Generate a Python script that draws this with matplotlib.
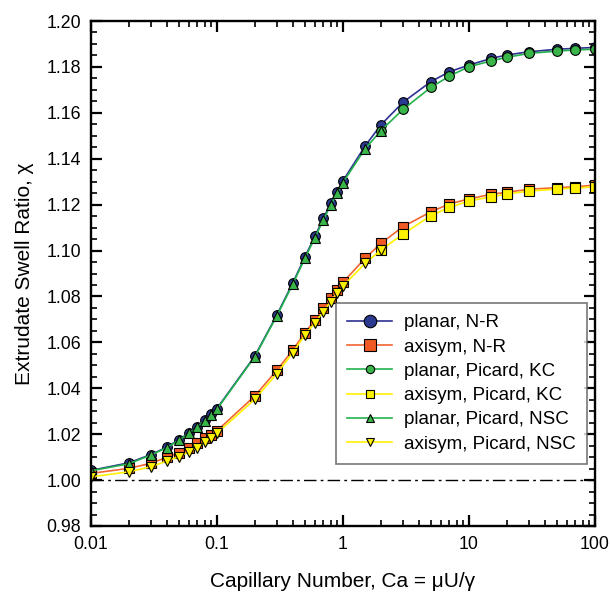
import matplotlib
matplotlib.use("Agg")
import matplotlib.pyplot as plt
from matplotlib.lines import Line2D
from matplotlib.ticker import LogLocator, MultipleLocator, FixedFormatter, FixedLocator

plt.rcParams['font.family'] = ['Liberation Sans', 'DejaVu Sans']

# Capillary numbers
ca_full = [0.01, 0.02, 0.03, 0.04, 0.05, 0.06, 0.07, 0.08, 0.09, 0.1,
           0.2, 0.3, 0.4, 0.5, 0.6, 0.7, 0.8, 0.9, 1, 1.5, 2,
           3, 5, 7, 10, 15, 20, 30, 50, 70, 100]
ca_low = ca_full[:21]    # Picard NSC runs
ca_high = ca_full[20:]   # Picard KC runs

planar_nr = [1.0042, 1.0075, 1.0111, 1.0143, 1.0176, 1.0205, 1.0233, 1.0261, 1.0286, 1.0311,
             1.0540, 1.0720, 1.0858, 1.0972, 1.1062, 1.1140, 1.1205, 1.1256, 1.1303, 1.1455, 1.1547,
             1.1646, 1.1736, 1.1779, 1.1808, 1.1837, 1.1852, 1.1866, 1.1877, 1.1881, 1.1885]
axisym_nr = [1.0029, 1.0051, 1.0073, 1.0099, 1.0119, 1.0141, 1.0160, 1.0182, 1.0196, 1.0214,
             1.0366, 1.0479, 1.0566, 1.0642, 1.0697, 1.0748, 1.0792, 1.0828, 1.0861, 1.0966, 1.1031,
             1.1104, 1.1169, 1.1203, 1.1225, 1.1245, 1.1254, 1.1267, 1.1274, 1.1278, 1.1285]
planar_kc = [1.1522, 1.1615, 1.1711, 1.1760, 1.1801, 1.1826, 1.1842, 1.1859, 1.1869, 1.1874, 1.1877]
axisym_kc = [1.1002, 1.1072, 1.1152, 1.1188, 1.1216, 1.1234, 1.1246, 1.1259, 1.1268, 1.1272, 1.1278]
planar_nsc = [1.0040, 1.0071, 1.0109, 1.0141, 1.0174, 1.0203, 1.0230, 1.0258, 1.0283, 1.0308,
              1.0537, 1.0716, 1.0853, 1.0966, 1.1056, 1.1133, 1.1198, 1.1249, 1.1296, 1.1443, 1.1522]
axisym_nsc = [1.0014, 1.0036, 1.0058, 1.0083, 1.0102, 1.0123, 1.0141, 1.0164, 1.0182, 1.0203,
              1.0352, 1.0464, 1.0555, 1.0632, 1.0685, 1.0733, 1.0777, 1.0816, 1.0845, 1.0944, 1.1002]

x_ticks = [0.01, 0.1, 1, 10, 100]
x_ticklabels = ["0.01", "0.1", "1", "10", "100"]

blue_line, blue_fill = "#2E3192", "#2B3990"
orange_line, orange_fill = "#F26531", "#F15A24"
green_line, green_fill = "#22B14C", "#39B54A"
yellow_line, yellow_fill = "#FFF200", "#FFF200"

fig = plt.figure(figsize=(6.1, 5.92), dpi=100)
ax = fig.add_axes([0.1487, 0.1115, 0.8267, 0.853])

ms = 7
kw = dict(markeredgecolor="black", markeredgewidth=0.8, linewidth=1.2, markersize=ms)
ax.plot([0.01, 100], [1.0, 1.0], color="black", linestyle=(0, (9, 3, 2, 3)), linewidth=1.0, zorder=1)
ax.plot(ca_full, planar_nr, color=blue_line, marker="o", markerfacecolor=blue_fill, **kw)
ax.plot(ca_full, axisym_nr, color=orange_line, marker="s", markerfacecolor=orange_fill, **kw)
ax.plot(ca_high, planar_kc, color=green_line, marker="o", markerfacecolor=green_fill, **kw)
ax.plot(ca_high, axisym_kc, color=yellow_line, marker="s", markerfacecolor=yellow_fill, **kw)
ax.plot(ca_low, planar_nsc, color=green_line, marker="^", markerfacecolor=green_fill, **kw)
ax.plot(ca_low, axisym_nsc, color=yellow_line, marker="v", markerfacecolor=yellow_fill, **kw)

ax.set_xscale("log")
ax.set_xlim(0.01, 100)
ax.set_ylim(0.98, 1.20)
ax.xaxis.set_major_locator(FixedLocator(x_ticks))
ax.xaxis.set_major_formatter(FixedFormatter(x_ticklabels))
ax.xaxis.set_minor_locator(LogLocator(base=10, subs=range(2, 10), numticks=20))
ax.xaxis.set_minor_formatter(FixedFormatter([]))
ax.yaxis.set_major_locator(MultipleLocator(0.02))
ax.yaxis.set_minor_locator(MultipleLocator(0.005))
ax.yaxis.set_major_formatter(matplotlib.ticker.FormatStrFormatter("%.2f"))

for s in ax.spines.values():
    s.set_linewidth(1.7)
ax.tick_params(which="major", direction="in", length=8, width=1.6, top=True, right=True,
               labelsize=12.8, pad=7)
ax.tick_params(which="minor", direction="in", length=4, width=1.2, top=True, right=True)

ax.set_xlabel("Capillary Number, Ca = \u03bcU/\u03b3", fontsize=15, labelpad=14)
ax.set_ylabel("Extrudate Swell Ratio, \u03c7", fontsize=15, labelpad=9)

# legend proxies (marker sizes as in the original key)
handles = [
    Line2D([], [], color=blue_line, marker="o", markerfacecolor=blue_fill, markeredgecolor="black",
           markeredgewidth=0.8, markersize=9, linewidth=1.2),
    Line2D([], [], color=orange_line, marker="s", markerfacecolor=orange_fill, markeredgecolor="black",
           markeredgewidth=0.8, markersize=8, linewidth=1.2),
    Line2D([], [], color=green_line, marker="o", markerfacecolor=green_fill, markeredgecolor="black",
           markeredgewidth=0.8, markersize=6, linewidth=1.2),
    Line2D([], [], color=yellow_line, marker="s", markerfacecolor=yellow_fill, markeredgecolor="black",
           markeredgewidth=0.8, markersize=6, linewidth=1.2),
    Line2D([], [], color=green_line, marker="^", markerfacecolor=green_fill, markeredgecolor="black",
           markeredgewidth=0.8, markersize=6, linewidth=1.2),
    Line2D([], [], color=yellow_line, marker="v", markerfacecolor=yellow_fill, markeredgecolor="black",
           markeredgewidth=0.8, markersize=6, linewidth=1.2),
]
labels = ["planar, N-R", "axisym, N-R", "planar, Picard, KC", "axisym, Picard, KC",
          "planar, Picard, NSC", "axisym, Picard, NSC"]
leg = ax.legend(handles, labels, loc="lower right", bbox_to_anchor=(0.9835, 0.1228),
                borderaxespad=0, fontsize=13.5, frameon=True, fancybox=False,
                handlelength=2.4, handletextpad=0.6, labelspacing=0.38, borderpad=0.6)
leg.get_frame().set_edgecolor("#555555")
leg.get_frame().set_linewidth(1.2)

fig.savefig("out.png", dpi=100)
